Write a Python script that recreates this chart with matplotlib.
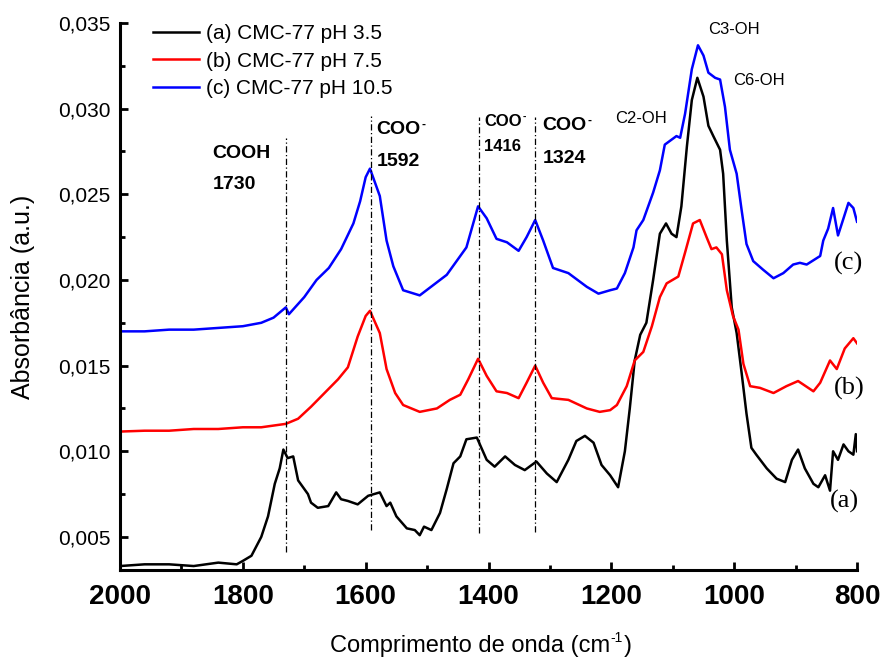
import numpy as np
import matplotlib
matplotlib.use('Agg')
import matplotlib.pyplot as plt
from matplotlib.ticker import MultipleLocator, FuncFormatter

# ------------------- 字体设置 -------------------
plt.rcParams["font.family"] = ["Liberation Sans", "DejaVu Sans"]
plt.rcParams["axes.unicode_minus"] = False

# ------------------- 数据 -------------------
# (a) CMC-77 pH 3.5
wn_a = [2000, 1960, 1920, 1880, 1840, 1810, 1800, 1786, 1770, 1759, 1748, 1740, 1734, 1727, 1718,
        1710, 1700, 1694, 1689, 1678, 1661, 1648, 1640, 1629, 1613, 1596, 1577, 1566, 1560, 1550,
        1533, 1520, 1512, 1505, 1493, 1479, 1468, 1457, 1446, 1436, 1419, 1403, 1390, 1373, 1357,
        1341, 1322, 1305, 1289, 1270, 1257, 1243, 1229, 1216, 1202, 1189, 1178, 1170, 1162, 1153,
        1143, 1132, 1121, 1111, 1102, 1094, 1086, 1077, 1069, 1060, 1050, 1042, 1034, 1023, 1018,
        1012, 1004, 996, 988, 980, 972, 964, 947, 931, 917, 906, 896, 885, 871, 863,
        852, 844, 839, 831, 822, 814, 806, 802, 800]
abs_a = [0.0033, 0.0034, 0.0034, 0.0033, 0.0035, 0.0034, 0.0036, 0.0039, 0.0050, 0.0062, 0.0081, 0.0090, 0.0101, 0.0096, 0.0097,
         0.0083, 0.0078, 0.0075, 0.0070, 0.0067, 0.0068, 0.0076, 0.0072, 0.0071, 0.0069, 0.0074, 0.0076, 0.0068, 0.0070, 0.0062,
         0.0055, 0.0054, 0.0051, 0.0056, 0.0054, 0.0064, 0.0078, 0.0093, 0.0097, 0.0107, 0.0108, 0.0095, 0.0091, 0.0097, 0.0092,
         0.0089, 0.0094, 0.0087, 0.0082, 0.0095, 0.0106, 0.0109, 0.0105, 0.0092, 0.0086, 0.0079, 0.0100, 0.0125, 0.0153, 0.0168,
         0.0175, 0.0200, 0.0227, 0.0233, 0.0227, 0.0225, 0.0243, 0.0278, 0.0305, 0.0318, 0.0307, 0.0290, 0.0284, 0.0276, 0.0262,
         0.0223, 0.0184, 0.0169, 0.0146, 0.0122, 0.0102, 0.0098, 0.0090, 0.0084, 0.0082, 0.0095, 0.0101, 0.0090, 0.0081, 0.0079,
         0.0086, 0.0077, 0.0100, 0.0095, 0.0104, 0.0100, 0.0098, 0.0110, 0.0100]

# (b) CMC-77 pH 7.5
wn_b = [2000, 1960, 1920, 1880, 1840, 1800, 1770, 1750, 1730, 1710, 1689, 1667, 1645, 1629, 1613,
        1600, 1593, 1577, 1566, 1552, 1539, 1512, 1484, 1463, 1446, 1433, 1417, 1403, 1387, 1370,
        1351, 1338, 1324, 1311, 1297, 1270, 1240, 1219, 1202, 1191, 1175, 1162, 1148, 1134, 1121,
        1110, 1091, 1080, 1067, 1056, 1045, 1037, 1029, 1020, 1012, 1002, 993, 985, 974, 958,
        936, 915, 896, 871, 860, 844, 833, 820, 806, 800]
abs_b = [0.01115, 0.0112, 0.0112, 0.0113, 0.0113, 0.0114, 0.0114, 0.0115, 0.0116, 0.0119, 0.0126, 0.0134, 0.0142, 0.0149, 0.0167,
         0.0179, 0.0182, 0.0169, 0.0148, 0.0134, 0.0127, 0.0123, 0.0125, 0.0130, 0.0133, 0.0142, 0.0154, 0.0144, 0.0135, 0.0134,
         0.0131, 0.0140, 0.0150, 0.0140, 0.0131, 0.0130, 0.0125, 0.0123, 0.0124, 0.0127, 0.0138, 0.0153, 0.0158, 0.0173, 0.0190,
         0.0198, 0.0202, 0.0216, 0.0233, 0.0235, 0.0225, 0.0218, 0.0219, 0.0215, 0.0194, 0.0179, 0.0171, 0.0151, 0.0138, 0.0137,
         0.0134, 0.0138, 0.0141, 0.0135, 0.0140, 0.0153, 0.0148, 0.0160, 0.0166, 0.0163]

# (c) CMC-77 pH 10.5
wn_c = [2000, 1960, 1920, 1880, 1840, 1800, 1770, 1750, 1730, 1725, 1710, 1700, 1680, 1660, 1640,
        1620, 1609, 1600, 1593, 1577, 1566, 1555, 1539, 1512, 1490, 1468, 1452, 1436, 1417, 1403,
        1387, 1370, 1351, 1338, 1324, 1311, 1295, 1270, 1240, 1221, 1202, 1191, 1178, 1164, 1159,
        1148, 1132, 1121, 1113, 1094, 1088, 1080, 1069, 1059, 1050, 1042, 1031, 1023, 1015, 1007,
        996, 988, 980, 969, 953, 936, 920, 904, 893, 882, 860, 855, 847, 839, 831,
        822, 814, 806, 800]
abs_c = [0.0170, 0.0170, 0.0171, 0.0171, 0.0172, 0.0173, 0.0175, 0.0178, 0.0184, 0.0180, 0.0186, 0.0190, 0.0200, 0.0207, 0.0218,
         0.0233, 0.0246, 0.0260, 0.0265, 0.0249, 0.0223, 0.0208, 0.0194, 0.0191, 0.0197, 0.0203, 0.0211, 0.0219, 0.0243, 0.0236,
         0.0224, 0.0222, 0.0217, 0.0225, 0.0235, 0.0223, 0.0207, 0.0204, 0.0196, 0.0192, 0.0194, 0.0195, 0.0204, 0.0219, 0.0229,
         0.0235, 0.0251, 0.0264, 0.0279, 0.0284, 0.0283, 0.0297, 0.0323, 0.0337, 0.0331, 0.0321, 0.0318, 0.0317, 0.0301, 0.0276,
         0.0262, 0.0241, 0.0221, 0.0211, 0.0206, 0.0201, 0.0204, 0.0209, 0.0210, 0.0209, 0.0214, 0.0223, 0.0230, 0.0242, 0.0226,
         0.0236, 0.0245, 0.0242, 0.0234]

legend_labels = ["(a) CMC-77 pH 3.5", "(b) CMC-77 pH 7.5", "(c) CMC-77 pH 10.5"]
curve_tags = ["(a)", "(b)", "(c)"]
colors = ["black", "red", "blue"]

# 特征峰参考线
peak_wn = [1730, 1592, 1416, 1324]
peak_top = [0.0283, 0.0296, 0.0295, 0.0295]
peak_bottom = [0.0041, 0.0054, 0.0052, 0.0053]
peak_group = ["COOH", "COO", "COO", "COO"]


def sup(base, s, size, weight="normal", dx=0.5, dy=-1.0):
    # 在文字右上角加上标
    return ax.annotate(s, xy=(1, 1), xycoords=base, xytext=(dx, dy), textcoords="offset points",
                       ha="left", va="top", fontsize=size, fontweight=weight)


# ------------------- 绘图 -------------------
fig = plt.figure(figsize=(8.83, 6.63), dpi=100)
ax = fig.add_axes([0.1359, 0.1403, 0.8347, 0.825])

for wn, ab, c, lab in zip([wn_a, wn_b, wn_c], [abs_a, abs_b, abs_c], colors, legend_labels):
    ax.plot(wn, ab, color=c, lw=1.8, label=lab)

for w, t, b in zip(peak_wn, peak_top, peak_bottom):
    ax.plot([w, w], [b, t], color="black", lw=0.9, linestyle=(0, (5, 2, 1, 2)))

# 峰标注
label_x = [1849, 1582, 1407, 1312]
label_y1 = [0.02741, 0.02876, 0.02924, 0.02899]
label_y2 = [0.02555, 0.02689, 0.02778, 0.02710]
label_fs = [14, 14, 12, 14]
for i in range(4):
    t = ax.text(label_x[i], label_y1[i], peak_group[i], fontsize=label_fs[i], fontweight="bold",
                ha="left", va="center")
    if peak_group[i] == "COO":
        sup(t, "-", label_fs[i] * 0.62, weight="bold", dx=0.5, dy=2.0)
    ax.text(label_x[i], label_y2[i], str(peak_wn[i]), fontsize=label_fs[i], fontweight="bold",
            ha="left", va="center")

ax.text(1194, 0.02944, "C2-OH", fontsize=12, ha="left", va="center")
ax.text(1042, 0.03463, "C3-OH", fontsize=12, ha="left", va="center")
ax.text(1001, 0.03167, "C6-OH", fontsize=12, ha="left", va="center")

# 曲线标签 (a)(b)(c)
for tag, x, y in zip(curve_tags, [845, 838, 838], [0.00706, 0.01368, 0.02098]):
    ax.text(x, y, tag, fontsize=19, family="Liberation Serif", ha="left", va="center")

# ------------------- 坐标轴 -------------------
ax.set_xlim(2000, 800)
ax.set_ylim(0.00307, 0.035)
ax.xaxis.set_major_locator(MultipleLocator(200))
ax.xaxis.set_minor_locator(MultipleLocator(100))
ax.yaxis.set_major_locator(MultipleLocator(0.005))
ax.yaxis.set_minor_locator(MultipleLocator(0.0025))
ax.yaxis.set_major_formatter(FuncFormatter(lambda v, p: f"{v:.3f}".replace(".", ",")))

for s in ["top", "right"]:
    ax.spines[s].set_visible(False)
for s in ["left", "bottom"]:
    ax.spines[s].set_linewidth(2.2)

ax.tick_params(axis="both", which="major", direction="in", length=6, width=2)
ax.tick_params(axis="both", which="minor", direction="in", length=3.5, width=2)
ax.tick_params(axis="y", which="major", labelsize=15, pad=7)
ax.tick_params(axis="x", which="major", labelsize=20, pad=10)
for lb in ax.get_xticklabels():
    lb.set_fontweight("bold")

# x 轴标题: 上标 -1 单独绘制
xl = fig.text(330 / 883, 1 - 646 / 663, "Comprimento de onda (cm", fontsize=17, ha="left", va="center")
xs = ax.annotate("-1", xy=(1, 1), xycoords=xl, xytext=(0.5, 3.0), textcoords="offset points",
                 ha="left", va="top", fontsize=10, annotation_clip=False)
ax.annotate(")", xy=(1, 0.5), xycoords=(xs, xl), xytext=(0.5, 0), textcoords="offset points",
            ha="left", va="center", fontsize=17, annotation_clip=False)

fig.text(23 / 883, 1 - 297 / 663, "Absorbância (a.u.)", fontsize=18, rotation=90,
         ha="center", va="center")

ax.legend(loc="upper left", bbox_to_anchor=(0.025, 1.025), frameon=False, fontsize=15,
          handlelength=2.2, handletextpad=0.35, labelspacing=0.42, borderpad=0.2)

plt.savefig("out.png", dpi=100)
